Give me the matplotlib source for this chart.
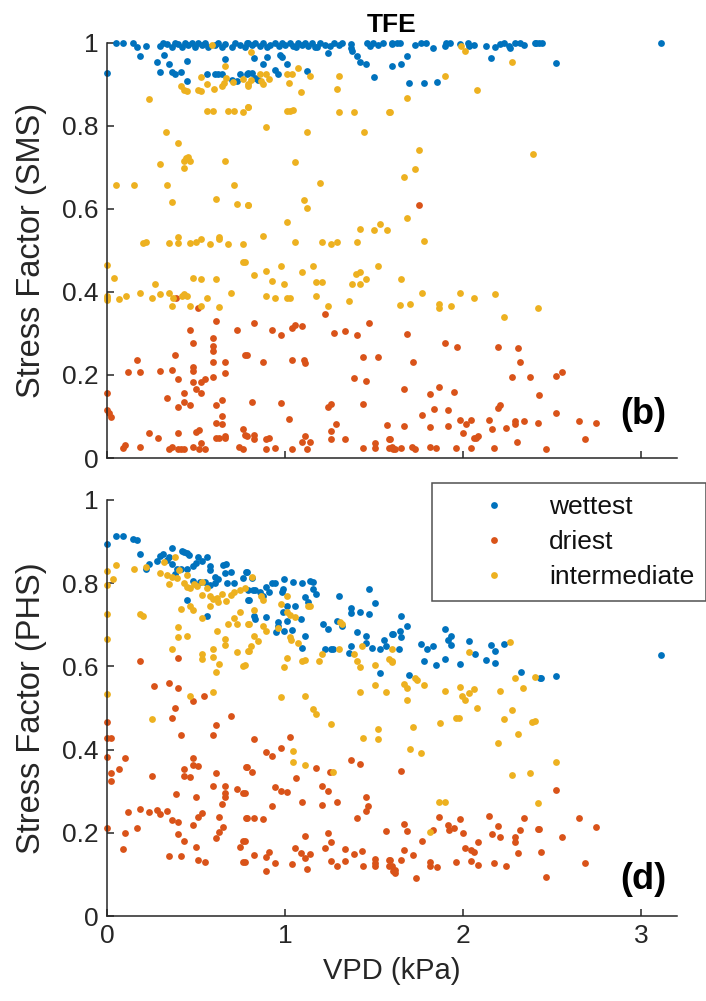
import matplotlib
matplotlib.use("Agg")
import matplotlib.pyplot as plt

plt.rcParams['font.family'] = ['Liberation Sans', 'DejaVu Sans']

# ---------------- data ----------------
series_names = ["wettest", "driest", "intermediate"]
series_colors = ["#0072BD", "#D95319", "#EDB120"]
x_ticks = [0, 1, 2, 3]
y_ticks = [0, 0.2, 0.4, 0.6, 0.8, 1]
y_tick_labels = ["0", "0.2", "0.4", "0.6", "0.8", "1"]

sms_wettest = [
    (0.05,1.0),(0.09,1.0),(0.148,1.0),(0.167,0.99),(0.22,0.993),(0.298,0.993),(0.316,1.0),(0.335,0.997),
    (0.363,0.99),(0.382,1.0),(0.40,0.997),(0.42,0.99),(0.438,1.0),(0.457,0.995),(0.476,1.0),(0.494,0.99),
    (0.513,1.0),(0.532,0.995),(0.55,1.0),(0.569,0.99),(0.607,0.995),(0.625,1.0),(0.644,0.99),(0.663,0.997),
    (0.70,0.99),(0.719,1.0),(0.747,0.995),(0.775,0.99),(0.794,1.0),
    (0.785,1.0),(0.813,0.995),(0.832,1.0),(0.86,0.993),(0.878,1.0),(0.916,0.995),(0.944,1.0),(0.963,0.993),
    (0.981,1.0),(1.0,0.995),(1.028,1.0),(1.047,0.993),(1.075,1.0),(1.094,0.995),(1.112,1.0),(1.131,0.993),
    (1.15,1.0),(1.169,0.99),(1.197,1.0),(1.225,0.995),(1.253,0.993),(1.272,1.0),(1.3,0.995),(1.318,1.0),
    (1.371,0.997),(1.371,0.988),(1.459,1.0),(1.478,0.993),(1.496,1.0),(1.524,0.995),(1.547,1.0),(1.599,0.997),
    (0.90,0.99),(1.06,0.99),(1.18,0.99),
    (1.6,1.0),(1.628,1.0),(1.646,1.0),(1.73,0.995),(1.762,1.0),(1.792,1.0),(1.83,0.987),(1.898,0.991),
    (1.904,1.0),(1.927,1.0),(1.979,0.998),(2.024,1.0),(2.03,0.993),(2.062,0.995),(2.127,0.993),(2.18,0.99),
    (2.208,0.998),(2.227,1.0),(2.255,0.993),(2.26,0.987),(2.292,1.0),(2.32,1.0),(2.339,0.995),(2.40,1.0),
    (2.424,1.0),(2.41,1.0),(2.44,1.0),(3.11,1.0),
    (0.185,0.967),(0.32,0.971),(0.283,0.953),(0.35,0.949),(0.45,0.955),(0.66,0.96),(0.002,0.928),(0.30,0.93),
    (0.363,0.93),(0.38,0.925),(0.416,0.93),(0.448,0.907),(0.564,0.925),(0.607,0.925),(0.625,0.925),(0.644,0.925),
    (0.70,0.91),(0.728,0.908),(0.747,0.925),(0.785,0.925),
    (0.828,0.963),(0.897,0.965),(0.878,0.949),(0.972,0.971),(0.98,0.965),(1.01,0.949),(1.24,0.975),(1.374,0.979),
    (1.403,0.969),(1.42,0.953),(1.453,0.948),(1.60,0.945),(0.79,0.927),(0.813,0.927),(0.83,0.915),(0.85,0.909),
    (0.944,0.935),(0.96,0.925),(1.12,0.933),(1.50,0.917),
    (1.652,0.949),(1.683,0.969),(1.698,0.904),(1.78,0.904),(1.85,0.906),(2.157,0.964),(2.52,0.951),
]

sms_driest = [
    (0.387,0.385),(0.513,0.362),(0.61,0.329),(0.728,0.308),(0.466,0.308),(0.597,0.29),(0.48,0.276),(0.597,0.27),
    (0.597,0.258),(0.382,0.247),(0.777,0.247),(0.17,0.235),(0.597,0.232),(0.663,0.232),(0.48,0.22),(0.48,0.21),
    (0.12,0.208),(0.185,0.208),(0.30,0.21),(0.367,0.213),(0.663,0.205),(0.40,0.19),(0.48,0.182),(0.53,0.182),
    (0.55,0.19),(0.597,0.194),(0.002,0.157),(0.50,0.165),(0.43,0.156),(0.53,0.156),(0.335,0.145),(0.646,0.14),
    (0.43,0.134),(0.466,0.128),(0.40,0.124),(0.61,0.127),(0.002,0.116),(0.013,0.108),(0.02,0.098),(0.646,0.101),
    (0.61,0.084),(0.646,0.081),(0.762,0.071),(0.50,0.063),(0.515,0.067),(0.234,0.059),(0.285,0.049),(0.40,0.059),
    (0.777,0.055),(0.61,0.047),(0.63,0.047),(0.663,0.054),(0.663,0.047),(0.10,0.032),(0.088,0.023),(0.185,0.026),
    (0.35,0.022),(0.367,0.026),(0.40,0.022),(0.415,0.022),(0.43,0.022),(0.48,0.026),(0.515,0.022),(0.53,0.037),
    (0.55,0.022),(0.743,0.026),(0.762,0.022),
    (1.224,0.347),(0.828,0.324),(0.929,0.308),(0.978,0.296),(1.041,0.314),(1.056,0.32),(1.094,0.317),(1.272,0.301),
    (1.337,0.306),(1.405,0.295),(1.472,0.325),(0.785,0.247),(0.878,0.231),(1.041,0.236),(1.107,0.237),(1.109,0.229),
    (1.437,0.244),(1.52,0.244),(1.388,0.192),(1.453,0.186),(0.813,0.136),(0.978,0.133),(1.24,0.124),(1.259,0.13),
    (1.437,0.13),(1.024,0.094),(1.288,0.082),(1.57,0.08),(1.256,0.065),(0.785,0.054),(0.828,0.055),(0.828,0.045),
    (0.895,0.045),(0.912,0.047),(1.109,0.054),(1.094,0.039),(1.14,0.039),(1.256,0.045),(1.337,0.045),(1.502,0.035),
    (1.584,0.045),(0.895,0.021),(0.944,0.025),(1.041,0.022),(1.124,0.021),(1.437,0.023),(1.502,0.023),(1.584,0.025),
    (1.608,0.022),
    (1.75,0.61),
    (1.684,0.299),(1.897,0.278),(1.964,0.268),(2.193,0.268),(2.305,0.265),(1.717,0.231),(2.32,0.23),(2.275,0.196),
    (2.372,0.194),(1.668,0.167),(1.863,0.172),(1.815,0.154),(1.946,0.158),(2.425,0.152),(1.766,0.104),(1.833,0.117),
    (1.914,0.115),(2.193,0.12),(2.204,0.127),(1.979,0.092),(2.013,0.081),(2.043,0.092),(2.142,0.092),(2.292,0.089),
    (2.292,0.083),(2.339,0.088),(2.42,0.085),(1.668,0.077),(1.815,0.075),(1.914,0.078),(2.16,0.071),(2.242,0.073),
    (1.996,0.059),(2.058,0.047),(2.08,0.053),(2.07,0.047),(2.301,0.038),(1.59,0.046),(1.60,0.027),(1.618,0.022),
    (1.65,0.025),(1.713,0.027),(1.73,0.021),(1.815,0.027),(1.849,0.023),(1.96,0.025),(2.043,0.025),(2.174,0.023),
    (2.52,0.198),(2.554,0.206),(2.52,0.109),(2.65,0.089),(2.747,0.084),(2.685,0.046),(2.466,0.021),
]

sms_intermediate = [
    (0.59,0.995),(0.66,0.945),(0.53,0.917),(0.67,0.915),(0.657,0.903),(0.71,0.906),(0.766,0.912),(0.564,0.901),
    (0.60,0.888),(0.644,0.896),(0.414,0.895),(0.43,0.885),(0.45,0.883),(0.513,0.886),(0.53,0.884),(0.79,0.90),
    (0.236,0.865),(0.56,0.835),(0.597,0.835),(0.68,0.835),(0.713,0.835),(0.762,0.834),(0.794,0.845),(0.33,0.785),
    (0.40,0.758),(0.444,0.722),(0.457,0.724),(0.43,0.716),(0.466,0.716),(0.30,0.709),(0.43,0.698),(0.665,0.714),
    (0.05,0.658),(0.15,0.658),(0.335,0.658),(0.713,0.657),(0.365,0.617),(0.61,0.624),(0.728,0.611),(0.794,0.61),
    (0.204,0.517),(0.22,0.52),(0.35,0.517),(0.40,0.531),(0.40,0.518),(0.466,0.518),(0.50,0.52),(0.53,0.527),
    (0.58,0.516),(0.63,0.533),(0.63,0.527),(0.68,0.516),(0.762,0.516),
    (0.002,0.465),(0.766,0.473),(0.04,0.433),(0.48,0.433),(0.53,0.432),(0.61,0.432),(0.27,0.42),(0.0,0.39),
    (0.0,0.385),(0.002,0.38),(0.07,0.382),(0.105,0.39),(0.185,0.397),(0.25,0.386),(0.30,0.394),(0.35,0.397),
    (0.367,0.367),(0.373,0.386),(0.42,0.389),(0.43,0.396),(0.45,0.389),(0.466,0.365),(0.53,0.365),(0.564,0.385),
    (0.63,0.364),(0.697,0.397),
    (0.81,0.978),(0.86,0.925),(0.891,0.925),(0.865,0.907),(0.878,0.901),(0.91,0.912),(0.794,0.896),(0.81,0.911),
    (1.01,0.925),(1.04,0.925),(1.07,0.94),(1.14,0.921),(1.024,0.903),(1.09,0.882),(1.305,0.92),(1.29,0.888),
    (0.794,0.845),(1.01,0.835),(1.028,0.835),(1.047,0.837),(1.305,0.834),(1.385,0.834),(1.584,0.834),(0.893,0.797),
    (1.124,0.784),(1.44,0.786),(1.058,0.712),(1.193,0.662),(0.794,0.609),(1.108,0.622),(1.124,0.602),(1.01,0.569),
    (0.878,0.535),(1.42,0.552),(1.50,0.548),(1.535,0.563),(1.57,0.55),(1.058,0.521),(1.206,0.521),(1.256,0.515),
    (1.29,0.521),(1.404,0.52),
    (0.775,0.473),(0.828,0.441),(0.895,0.451),(0.929,0.427),(0.978,0.463),(0.994,0.419),(1.094,0.449),(1.159,0.463),
    (1.174,0.423),(1.206,0.423),(1.40,0.443),(1.42,0.447),(1.375,0.418),(1.42,0.419),(1.455,0.43),(1.519,0.462),
    (0.895,0.389),(0.944,0.385),(1.01,0.385),(1.025,0.385),(1.174,0.389),(1.24,0.365),(1.356,0.377),
    (1.99,0.993),(2.01,0.98),(2.273,0.953),(1.897,0.919),(2.077,0.887),(1.683,0.868),(1.59,0.833),(1.75,0.742),
    (1.73,0.696),(1.668,0.676),(2.39,0.731),(1.683,0.579),(1.78,0.522),
    (1.65,0.43),(1.766,0.397),(1.98,0.397),(2.176,0.395),(1.646,0.369),(1.702,0.371),(1.863,0.371),(1.866,0.362),
    (1.93,0.367),(2.062,0.385),(2.227,0.339),(2.418,0.362),
]

phs_wettest = [
    (0.002,0.894),(0.05,0.913),(0.088,0.914),(0.148,0.906),(0.167,0.904),(0.185,0.869),(0.22,0.833),(0.238,0.846),
    (0.283,0.854),(0.30,0.866),(0.316,0.87),(0.335,0.856),(0.35,0.862),(0.363,0.884),(0.365,0.846),(0.382,0.822),
    (0.42,0.877),(0.433,0.874),(0.45,0.872),(0.462,0.868),(0.395,0.833),(0.414,0.833),(0.45,0.833),(0.485,0.841),
    (0.50,0.848),(0.513,0.864),(0.532,0.854),(0.564,0.864),(0.578,0.841),(0.578,0.832),(0.607,0.816),(0.625,0.809),
    (0.653,0.844),(0.668,0.846),(0.663,0.824),(0.695,0.826),(0.481,0.806),(0.522,0.804),(0.55,0.804),(0.578,0.796),
    (0.607,0.80),(0.672,0.80),(0.713,0.801),(0.766,0.812),(0.779,0.828),(0.794,0.784),(0.794,0.76),(0.451,0.76),
    (0.564,0.72),
    (0.785,0.826),(0.813,0.812),(0.817,0.784),(0.795,0.76),(0.832,0.784),(0.86,0.78),(0.878,0.769),(0.891,0.792),
    (0.91,0.78),(0.925,0.801),(0.944,0.801),(0.981,0.78),(0.99,0.785),(0.996,0.809),(1.043,0.804),(1.094,0.801),
    (1.14,0.805),(1.159,0.804),(1.159,0.785),(1.172,0.774),(1.109,0.766),(1.131,0.756),(1.009,0.744),(1.056,0.744),
    (0.99,0.73),(1.009,0.71),(0.962,0.706),(0.962,0.697),(1.09,0.713),(0.893,0.718),(0.828,0.72),(0.832,0.714),
    (0.948,0.682),(0.996,0.685),(1.041,0.687),(1.109,0.674),(1.094,0.644),(1.224,0.641),(1.258,0.643),(1.271,0.643),
    (1.305,0.769),(1.21,0.702),(1.24,0.689),(1.29,0.708),(1.322,0.696),(1.37,0.74),(1.37,0.728),(1.421,0.73),
    (1.472,0.786),(1.472,0.726),(1.505,0.752),(1.404,0.682),(1.453,0.674),(1.453,0.657),(1.489,0.645),(1.535,0.643),
    (1.555,0.663),(1.568,0.649),(1.603,0.678),(1.37,0.65),(1.356,0.633),(1.535,0.583),
    (1.652,0.722),(1.683,0.698),(1.646,0.686),(1.652,0.671),(1.60,0.678),(1.637,0.642),(1.698,0.579),(1.764,0.654),
    (1.796,0.641),(1.83,0.65),(1.781,0.612),(1.849,0.603),(1.899,0.691),(1.93,0.674),(1.912,0.664),(1.93,0.651),
    (1.899,0.617),(1.979,0.605),(2.03,0.662),(2.064,0.631),(2.127,0.615),(2.157,0.651),(2.18,0.638),(2.176,0.607),
    (2.227,0.655),(2.324,0.586),(2.432,0.571),
    (2.438,0.571),(2.52,0.578),(3.11,0.627),
]

phs_driest = [
    (0.185,0.613),(0.40,0.62),(0.266,0.554),(0.35,0.561),(0.40,0.549),(0.481,0.517),(0.547,0.53),(0.382,0.499),
    (0.365,0.475),(0.697,0.481),(0.002,0.467),(0.612,0.458),(0.002,0.429),(0.02,0.429),(0.416,0.434),(0.597,0.435),
    (0.002,0.383),(0.10,0.381),(0.02,0.343),(0.07,0.353),(0.02,0.325),(0.25,0.337),(0.481,0.381),(0.433,0.353),
    (0.481,0.363),(0.513,0.361),(0.433,0.337),(0.466,0.333),(0.612,0.343),(0.779,0.359),(0.597,0.313),(0.663,0.313),
    (0.729,0.305),(0.762,0.295),(0.663,0.295),(0.663,0.285),(0.386,0.293),(0.498,0.287),(0.648,0.269),(0.12,0.249),
    (0.185,0.257),(0.234,0.251),(0.283,0.256),(0.297,0.245),(0.335,0.253),(0.532,0.248),(0.513,0.237),(0.63,0.237),
    (0.779,0.236),(0.367,0.231),(0.40,0.227),(0.481,0.219),(0.002,0.211),(0.17,0.212),(0.10,0.199),(0.40,0.196),
    (0.63,0.201),(0.65,0.213),(0.612,0.187),(0.433,0.181),(0.762,0.181),(0.088,0.161),(0.498,0.165),(0.747,0.165),
    (0.35,0.145),(0.416,0.145),(0.513,0.135),(0.55,0.131),(0.762,0.131),
    (0.828,0.425),(1.025,0.43),(0.978,0.405),(0.891,0.395),(0.929,0.385),(0.785,0.359),(0.813,0.345),(1.172,0.355),
    (1.252,0.347),(1.37,0.374),(1.42,0.365),(1.06,0.331),(0.943,0.309),(0.978,0.301),(1.009,0.299),(1.206,0.312),
    (1.24,0.301),(0.775,0.295),(1.094,0.273),(1.206,0.267),(1.29,0.273),(0.929,0.264),(1.453,0.285),(1.468,0.264),
    (1.453,0.252),(1.404,0.236),(0.785,0.235),(0.828,0.235),(0.878,0.233),(1.568,0.204),(1.24,0.199),(1.109,0.192),
    (1.259,0.179),(0.775,0.181),(1.224,0.164),(1.056,0.164),(1.337,0.16),(1.434,0.156),(0.91,0.155),(1.09,0.152),
    (1.14,0.149),(0.828,0.147),(0.891,0.141),(1.109,0.139),(1.387,0.149),(1.502,0.136),(1.582,0.135),(0.775,0.131),
    (0.943,0.128),(1.041,0.125),(1.259,0.132),(1.337,0.132),(1.502,0.127),(1.584,0.119),(1.608,0.107),(1.124,0.113),
    (1.29,0.121),(1.437,0.119),(1.502,0.119),(0.893,0.107),
    (1.652,0.349),(1.863,0.239),(2.142,0.241),(2.339,0.235),(1.668,0.221),(1.683,0.205),(1.829,0.207),(1.912,0.219),
    (1.918,0.207),(1.946,0.211),(1.979,0.232),(1.996,0.199),(2.193,0.216),(2.159,0.196),(2.204,0.189),(2.29,0.191),
    (2.32,0.207),(2.419,0.208),(1.766,0.181),(2.081,0.179),(2.29,0.177),(2.009,0.164),(2.043,0.159),(2.062,0.155),
    (1.668,0.159),(1.717,0.147),(2.305,0.151),(1.59,0.135),(1.65,0.135),(1.815,0.129),(1.96,0.129),(2.043,0.133),
    (1.60,0.119),(1.618,0.111),(1.618,0.103),(1.815,0.119),(1.85,0.117),(2.081,0.123),(2.171,0.127),(2.242,0.12),
    (1.733,0.092),
    (2.52,0.303),(2.65,0.235),(2.747,0.213),(2.423,0.208),(2.554,0.189),(2.434,0.155),(2.685,0.128),(2.466,0.093),
]

phs_intermediate = [
    (0.002,0.83),(0.002,0.796),(0.036,0.809),(0.05,0.844),(0.152,0.834),(0.22,0.84),(0.30,0.825),(0.32,0.852),
    (0.335,0.82),(0.363,0.814),(0.382,0.864),(0.395,0.812),(0.407,0.832),(0.35,0.798),(0.433,0.80),(0.448,0.792),
    (0.466,0.788),(0.451,0.82),(0.489,0.798),(0.504,0.794),(0.532,0.804),(0.532,0.771),(0.56,0.788),(0.578,0.769),
    (0.594,0.761),(0.616,0.765),(0.625,0.756),(0.644,0.773),(0.669,0.758),(0.695,0.772),(0.713,0.78),(0.747,0.784),
    (0.775,0.788),(0.002,0.726),(0.002,0.666),(0.002,0.533),(0.185,0.726),(0.20,0.72),(0.414,0.737),(0.466,0.745),
    (0.481,0.736),(0.578,0.745),(0.532,0.716),(0.682,0.703),(0.713,0.716),(0.729,0.703),(0.747,0.731),(0.79,0.702),
    (0.40,0.695),(0.40,0.67),(0.451,0.674),(0.616,0.684),(0.663,0.666),(0.663,0.651),(0.367,0.643),(0.597,0.643),
    (0.729,0.635),(0.79,0.637),(0.532,0.629),(0.532,0.617),(0.597,0.623),(0.63,0.605),(0.762,0.602),(0.612,0.587),
    (0.25,0.474),(0.466,0.53),(0.597,0.539),
    (0.813,0.816),(0.865,0.769),(0.878,0.76),(0.828,0.735),(0.795,0.702),(0.828,0.674),(0.846,0.662),(0.809,0.649),
    (0.795,0.637),(0.775,0.603),(0.878,0.697),(0.891,0.686),(0.962,0.692),(0.978,0.749),(1.009,0.769),(1.009,0.73),
    (1.028,0.724),(1.056,0.718),(1.129,0.745),(1.142,0.745),(1.03,0.67),(1.034,0.663),(1.075,0.657),(1.009,0.619),
    (0.994,0.598),(1.094,0.614),(1.109,0.615),(1.19,0.613),(1.206,0.631),(1.305,0.643),(1.318,0.703),(1.31,0.707),
    (1.384,0.63),(1.402,0.614),(1.421,0.599),(1.434,0.65),(1.502,0.603),(1.584,0.617),(1.599,0.61),(0.978,0.526),
    (1.109,0.53),(1.159,0.498),(1.174,0.485),(1.258,0.461),(1.421,0.539),(1.502,0.555),(1.568,0.538),(1.521,0.449),
    (1.521,0.425),(1.437,0.427),(1.043,0.397),(1.043,0.371),(1.109,0.363),(1.271,0.347),
    (1.60,0.642),(1.60,0.613),(2.03,0.635),(2.26,0.659),(1.665,0.557),(1.683,0.549),(1.73,0.571),(1.74,0.567),
    (1.781,0.555),(1.683,0.519),(1.897,0.541),(1.979,0.551),(1.992,0.529),(2.011,0.519),(2.03,0.537),(2.062,0.546),
    (2.077,0.499),(2.208,0.542),(2.288,0.571),(2.338,0.549),(2.404,0.574),(1.717,0.455),(1.867,0.463),(1.96,0.475),
    (1.978,0.477),(2.226,0.474),(2.275,0.495),(2.388,0.467),(2.305,0.437),(2.193,0.415),(1.702,0.401),(1.764,0.393),
    (2.275,0.339),(2.373,0.343),(1.862,0.275),(1.899,0.275),(2.418,0.271),(1.815,0.201),
    (2.404,0.469),(2.52,0.369),
]

# ---------------- figure ----------------
W, H = 706, 1001
fig = plt.figure(figsize=(W / 100, H / 100), dpi=100)

ax_top = fig.add_axes([107 / W, 1 - 458 / H, 570 / W, 415.3 / H])
ax_bot = fig.add_axes([107 / W, 1 - 916 / H, 570 / W, 416 / H])

axis_color = "#262626"
tick_fs = 19
xlabel_fs = 21
ylabel_fs = 23.5

panels = [
    (ax_top, [sms_wettest, sms_driest, sms_intermediate], "Stress Factor (SMS)", "(b)", 0.104),
    (ax_bot, [phs_wettest, phs_driest, phs_intermediate], "Stress Factor (PHS)", "(d)", 0.087),
]

for ax, groups, ylab, tag, tag_y in panels:
    for pts, name, col in zip(groups, series_names, series_colors):
        xs = [p[0] for p in pts]
        ys = [p[1] for p in pts]
        ax.plot(xs, ys, linestyle="none", marker="o", markersize=4.9,
                markerfacecolor=col, markeredgecolor="none", color=col,
                label=name, clip_on=False)
    ax.set_xlim(0, 3.2)
    ax.set_ylim(0, 1)
    ax.set_xticks(x_ticks)
    ax.set_yticks(y_ticks)
    ax.set_yticklabels(y_tick_labels)
    for side in ("top", "right"):
        ax.spines[side].set_visible(False)
    for side in ("left", "bottom"):
        ax.spines[side].set_color(axis_color)
        ax.spines[side].set_linewidth(1.1)
    ax.tick_params(direction="in", length=5, width=1.1, color=axis_color,
                   labelcolor=axis_color, labelsize=tick_fs, pad=6)
    ax.set_ylabel(ylab, fontsize=ylabel_fs, color=axis_color, labelpad=11)
    ax.text(0.982, tag_y, tag, transform=ax.transAxes, fontsize=26,
            fontweight="bold", ha="right", va="center", color="black")

ax_top.set_xticklabels([])
ax_top.set_title("TFE", fontsize=19, fontweight="bold", color="black", pad=8)
ax_bot.set_xticklabels([str(t) for t in x_ticks])
ax_bot.set_xlabel("VPD (kPa)", fontsize=xlabel_fs, color=axis_color, labelpad=6)

leg = ax_bot.legend(loc="upper left", bbox_to_anchor=(0.570, 1.041),
                    borderaxespad=0, fontsize=19, frameon=True, fancybox=False,
                    handlelength=3.8, handletextpad=0.2, borderpad=0.45,
                    labelspacing=0.42, markerscale=1.0)
leg.get_frame().set_edgecolor(axis_color)
leg.get_frame().set_linewidth(1.1)
for t in leg.get_texts():
    t.set_color("#111111")

fig.savefig("out.png", dpi=100)
